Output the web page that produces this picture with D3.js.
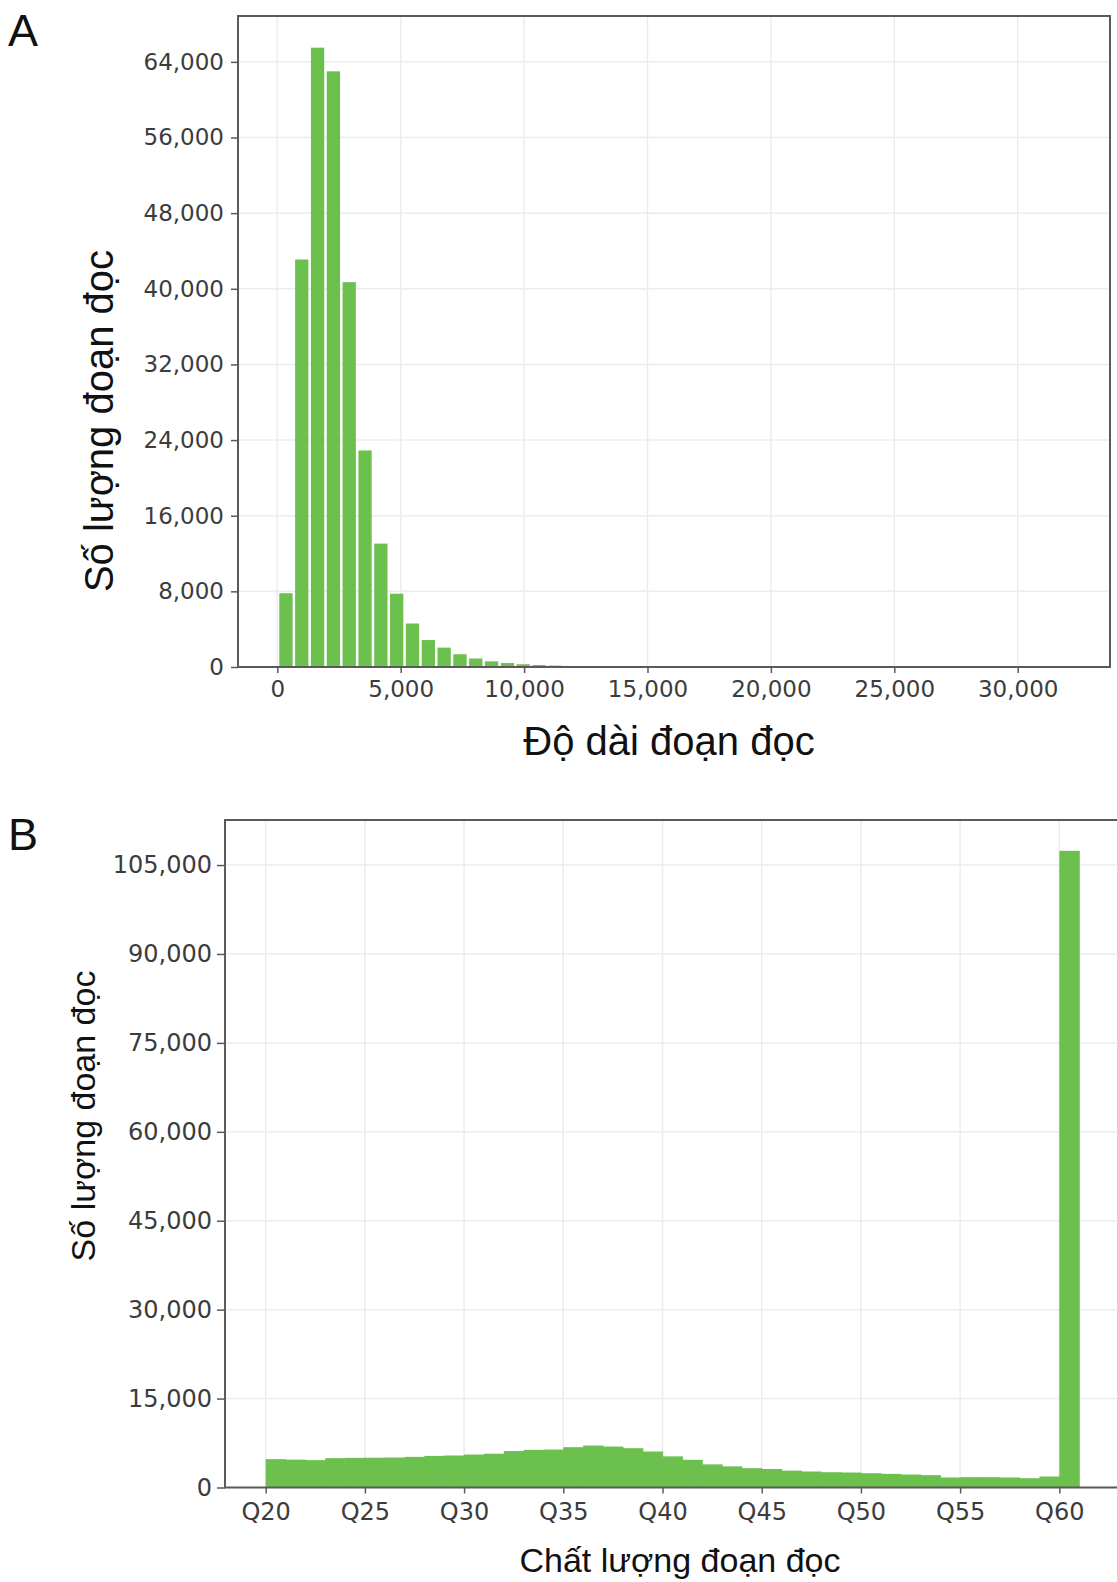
<!DOCTYPE html>
<html>
<head>
<meta charset="utf-8">
<script src="https://cdn.jsdelivr.net/npm/d3@7"></script>
<style>
  html, body { margin: 0; padding: 0; background: #fff; }
  svg { display: block; }
</style>
</head>
<body>
<svg id="chart" width="1117" height="1582"></svg>
<script>
// ---------- DATA ----------
// Panel A: read-length histogram (bins start at lengthBinStart, width lengthBinWidth)
const lengthBinStart = 30;
const lengthBinWidth = 641;
const lengthCounts = [
  7800, 43100, 65500, 63000, 40700, 22900, 13050, 7750, 4600, 2850,
  2050, 1350, 900, 600, 420, 290, 210, 150, 110, 80,
  60, 45, 35, 25, 20, 15, 12, 10, 8, 6,
  5, 4, 3, 3, 2, 2, 2, 1, 1, 1,
  1, 1, 1, 0, 0, 0, 1, 0, 0, 1
];
const lengthXTicks = [0, 5000, 10000, 15000, 20000, 25000, 30000];
const lengthYTicks = [0, 8000, 16000, 24000, 32000, 40000, 48000, 56000, 64000];

// Panel B: read-quality histogram (one bin per Q unit, starting at Q20)
const qualityBins = [20,21,22,23,24,25,26,27,28,29,30,31,32,33,34,35,36,37,38,39,40,
                     41,42,43,44,45,46,47,48,49,50,51,52,53,54,55,56,57,58,59,60];
const qualityCounts = [
  4780, 4700, 4620, 4950, 5000, 5020, 5060, 5170, 5330, 5400,
  5560, 5700, 6150, 6350, 6400, 6800, 7080, 6910, 6630, 6070,
  5250, 4670, 3900, 3560, 3260, 3120, 2850, 2700, 2580, 2530,
  2410, 2300, 2190, 2080, 1690, 1740, 1740, 1690, 1570, 1850,
  107400
];
const qualityXTicks = [20, 25, 30, 35, 40, 45, 50, 55, 60];
const qualityYTicks = [0, 15000, 30000, 45000, 60000, 75000, 90000, 105000];

const panelLabels = ["A", "B"];
const titleA = { x: "Độ dài đoạn đọc", y: "Số lượng đoạn đọc" };
const titleB = { x: "Chất lượng đoạn đọc", y: "Số lượng đoạn đọc" };

// ---------- STYLE ----------
const barColor = "#6cc04d";
const gridColor = "#ececec";
const frameColor = "#5a5a5a";
const tickFont = "'DejaVu Sans', Verdana, sans-serif";
const titleFont = "'Liberation Sans', Arial, sans-serif";
const fmt = d3.format(",");

const svg = d3.select("#chart");

function styleAxis(g, fontSize) {
  g.select(".domain").remove();
  g.selectAll(".tick line").attr("stroke", frameColor).attr("stroke-width", 1.5);
  g.selectAll(".tick text")
    .attr("fill", "#3c3c3c")
    .style("font-family", tickFont)
    .style("font-size", fontSize + "px");
}

// ================= PANEL A =================
{
  const L = 238, R = 1110, T = 16, B = 667;
  const x = d3.scaleLinear().domain([-1592, 33740]).range([L, R]);
  const y = d3.scaleLinear().domain([0, 68850]).range([B, T]);
  const g = svg.append("g");

  // grid
  g.append("g").selectAll("line.v").data(lengthXTicks).join("line")
    .attr("x1", d => x(d)).attr("x2", d => x(d)).attr("y1", T).attr("y2", B)
    .attr("stroke", gridColor).attr("stroke-width", 1.5);
  g.append("g").selectAll("line.h").data(lengthYTicks).join("line")
    .attr("x1", L).attr("x2", R).attr("y1", d => y(d)).attr("y2", d => y(d))
    .attr("stroke", gridColor).attr("stroke-width", 1.5);

  // bars
  const gapFrac = 0.16;
  g.append("g").selectAll("rect").data(lengthCounts).join("rect")
    .attr("x", (d, i) => {
      const x0 = x(lengthBinStart + i * lengthBinWidth), x1 = x(lengthBinStart + (i + 1) * lengthBinWidth);
      return x0 + (x1 - x0) * gapFrac / 2;
    })
    .attr("width", (d, i) => {
      const x0 = x(lengthBinStart + i * lengthBinWidth), x1 = x(lengthBinStart + (i + 1) * lengthBinWidth);
      return (x1 - x0) * (1 - gapFrac);
    })
    .attr("y", d => y(d))
    .attr("height", d => B - y(d))
    .attr("fill", barColor);

  // frame
  g.append("rect").attr("x", L).attr("y", T).attr("width", R - L).attr("height", B - T)
    .attr("fill", "none").attr("stroke", frameColor).attr("stroke-width", 2);

  // axes
  const ax = g.append("g").attr("transform", `translate(0,${B})`)
    .call(d3.axisBottom(x).tickValues(lengthXTicks).tickFormat(fmt).tickSize(6).tickPadding(8));
  styleAxis(ax, 23);
  const ay = g.append("g").attr("transform", `translate(${L},0)`)
    .call(d3.axisLeft(y).tickValues(lengthYTicks).tickFormat(fmt).tickSize(7).tickPadding(7));
  styleAxis(ay, 23);

  // titles
  g.append("text").attr("x", 669).attr("y", 755).attr("text-anchor", "middle")
    .style("font-family", titleFont).style("font-size", "40px").attr("fill", "#111")
    .text(titleA.x);
  g.append("text").attr("transform", "translate(113,421) rotate(-90)").attr("text-anchor", "middle")
    .style("font-family", titleFont).style("font-size", "40px").attr("fill", "#111")
    .text(titleA.y);
  g.append("text").attr("x", 8).attr("y", 46)
    .style("font-family", titleFont).style("font-size", "45px").attr("fill", "#111")
    .text(panelLabels[0]);
}

// ================= PANEL B =================
{
  const L = 225, R = 1126, T = 820, B = 1487.5;
  const x = d3.scaleLinear().domain([17.95, 63.36]).range([L, R]);
  const y = d3.scaleLinear().domain([0, 112600]).range([B, T]);
  const g = svg.append("g");

  g.append("g").selectAll("line").data(qualityXTicks).join("line")
    .attr("x1", d => x(d)).attr("x2", d => x(d)).attr("y1", T).attr("y2", B)
    .attr("stroke", gridColor).attr("stroke-width", 1.5);
  g.append("g").selectAll("line").data(qualityYTicks).join("line")
    .attr("x1", L).attr("x2", R).attr("y1", d => y(d)).attr("y2", d => y(d))
    .attr("stroke", gridColor).attr("stroke-width", 1.5);

  g.append("g").selectAll("rect").data(qualityCounts).join("rect")
    .attr("x", (d, i) => x(qualityBins[i]))
    .attr("width", (d, i) => x(qualityBins[i] + 1) - x(qualityBins[i]) + 0.6)
    .attr("y", d => y(d))
    .attr("height", d => B - y(d))
    .attr("fill", barColor);

  // frame (left, top, bottom; right edge runs off the page)
  g.append("path")
    .attr("d", `M${R},${T}H${L}V${B}H${R}`)
    .attr("fill", "none").attr("stroke", frameColor).attr("stroke-width", 2);

  const ax = g.append("g").attr("transform", `translate(0,${B})`)
    .call(d3.axisBottom(x).tickValues(qualityXTicks).tickFormat(d => "Q" + d).tickSize(6).tickPadding(9));
  styleAxis(ax, 24);
  const ay = g.append("g").attr("transform", `translate(${L},0)`)
    .call(d3.axisLeft(y).tickValues(qualityYTicks).tickFormat(fmt).tickSize(8).tickPadding(5));
  styleAxis(ay, 24);

  g.append("text").attr("x", 680).attr("y", 1572).attr("text-anchor", "middle")
    .style("font-family", titleFont).style("font-size", "34px").attr("fill", "#111")
    .text(titleB.x);
  g.append("text").attr("transform", "translate(95,1116) rotate(-90)").attr("text-anchor", "middle")
    .style("font-family", titleFont).style("font-size", "34px").attr("fill", "#111")
    .text(titleB.y);
  g.append("text").attr("x", 8).attr("y", 850)
    .style("font-family", titleFont).style("font-size", "45px").attr("fill", "#111")
    .text(panelLabels[1]);
}
</script>
</body>
</html>
